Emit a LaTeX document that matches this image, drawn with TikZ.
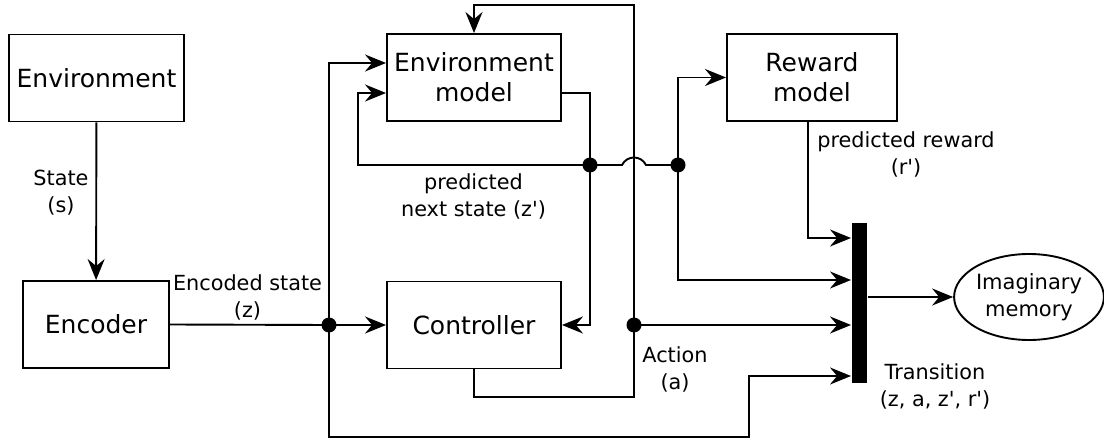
\documentclass[tikz,border=0pt]{standalone}
\usepackage{fontspec}
\setmainfont{DejaVu Sans}[Ligatures=TeXOff]
\usetikzlibrary{arrows.meta,shapes.geometric,calc}
\begin{document}
\begin{tikzpicture}[x=1pt,y=-1pt, line width=1.9pt,
 box/.style={draw, minimum width=175pt, minimum height=87pt, inner sep=0pt, font=\fontsize{25}{30}\selectfont, align=center},
 lbl/.style={font=\fontsize{20.8}{27}\selectfont, align=center, inner sep=0pt},
 arr/.style={-{Stealth[length=21pt,width=17pt,inset=7pt]}},
 dot/.style={circle, fill, minimum size=15pt, inner sep=0pt}]
\useasboundingbox (0,0) rectangle (1104,441);

\node[box] (env) at (96.5,78) {Environment};
\node[box, minimum width=146pt] (enc) at (96,324.5) {Encoder};
\node[box, minimum width=174pt] (em) at (474,77.5) {Environment\\model};
\node[box, minimum width=174pt] (ctrl) at (474,325) {Controller};
\node[box, minimum width=170pt] (rm) at (812,77.5) {Reward\\model};
\node[fill, minimum width=15pt, minimum height=160pt, inner sep=0pt] (bar) at (859.5,303) {};
\node[draw, ellipse, minimum width=146pt, minimum height=86pt, inner sep=0pt, font=\fontsize{21}{27}\selectfont, align=center] (mem) at (1029,297) {Imaginary\\memory};

\node[dot] (d1) at (329,325) {};
\node[dot] (d2) at (590,165) {};
\node[dot] (d3) at (678,165) {};
\node[dot] (d4) at (634,325) {};

\draw[arr] (env) -- (enc);
\draw (enc.east) -- (d1.center);
\draw[arr] (d1.center) -- (ctrl.west);
\draw[arr] (d1.center) |- ([yshift=14.5pt]em.west);
\draw[arr] (d1.center) -- (329,437) -- (749,437) -- (749,376) -- ([yshift=-73pt]bar.west);

\draw ([yshift=-15.5pt]em.east) -- (590,93) -- (d2.center);
\draw[arr] (d2.center) -- (590,325) -- (ctrl.east);
\draw[arr] (d2.center) -- (358,165) -- (358,93) -- ([yshift=-15.5pt]em.west);
\draw (d2.center) -- (622,165) .. controls (627,155) and (641,155) .. (646,165) -- (d3.center);
\draw[arr] (d3.center) -- (678,77.5) -- (rm.west);
\draw[arr] (d3.center) -- (678,280) -- ([yshift=23pt]bar.west);
\draw[arr] ([xshift=-4pt]rm.south) -- (808,238) -- ([yshift=65pt]bar.west);

\draw[arr] (ctrl.south) -- (474,397) -- (634,397) -- (634,5) -- (474,5) -- (em.north);
\draw[arr] (d4.center) -- ([yshift=-22pt]bar.west);
\draw[arr] ([yshift=6pt]bar.east) -- (mem.west);

\node[lbl] (ls) at (61,193) {State\\(s)};
\node[lbl] (lz) at (247.5,297) {Encoded state\\(z)};
\node[lbl] (lzp) at (473.5,196) {predicted\\next state (z')};
\node[lbl] (lr) at (906,154) {predicted reward\\(r')};
\node[lbl] (la) at (675,369) {Action\\(a)};
\node[lbl] (lt) at (935,386) {Transition\\(z, a, z', r')};
\end{tikzpicture}
\end{document}
